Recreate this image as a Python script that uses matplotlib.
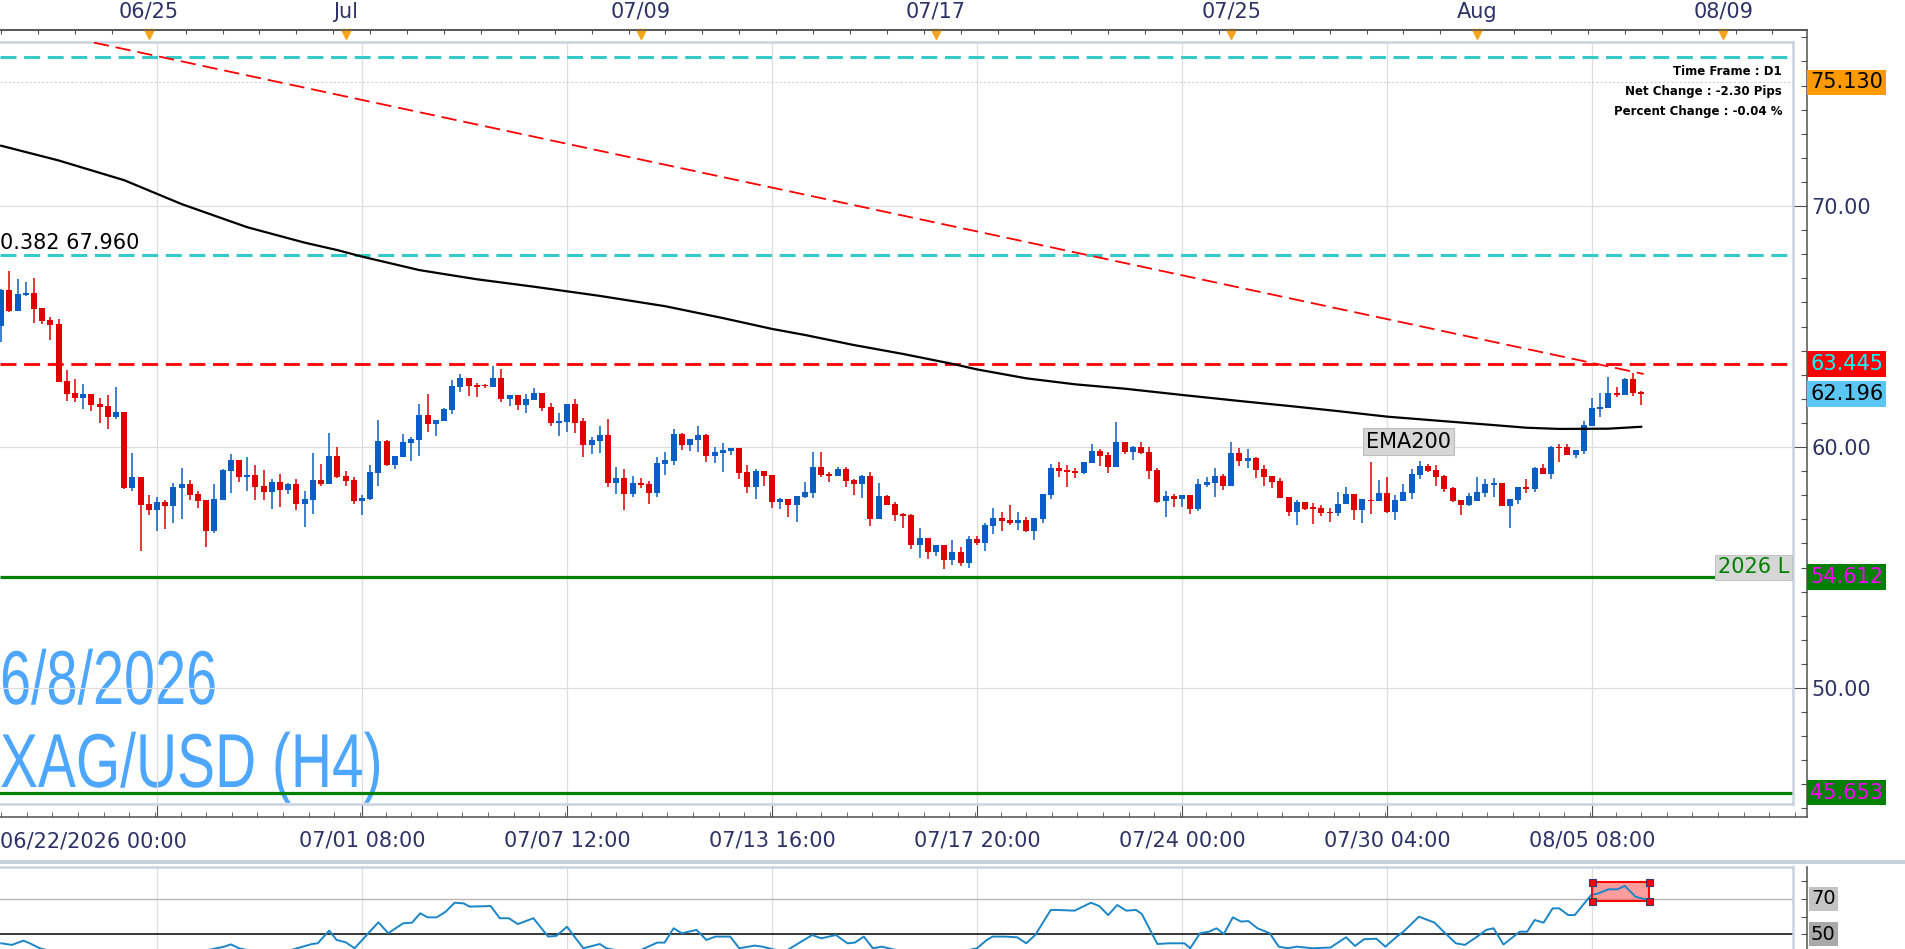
import matplotlib
matplotlib.use("Agg")
import numpy as np
import matplotlib.pyplot as plt
import matplotlib.transforms as mtransforms
from matplotlib import patheffects
from matplotlib.lines import Line2D
from matplotlib.patches import Rectangle

# XAG/USD H4 candles, oldest first
opens = [
    65.02, 66.51, 65.64, 66.32, 66.40, 65.77, 65.27, 65.10, 62.74, 62.22,
    62.05, 62.20, 61.79, 61.70, 61.26, 61.47, 58.30, 58.75, 57.63, 57.39,
    57.72, 57.55, 58.31, 58.45, 58.05, 57.80, 56.51, 57.81, 59.02, 59.45,
    58.76, 58.84, 58.37, 58.13, 58.55, 58.23, 58.46, 57.63, 57.81, 58.63,
    58.46, 59.62, 58.79, 58.63, 57.76, 57.84, 58.92, 60.25, 59.25, 59.60,
    60.17, 60.29, 61.33, 60.97, 61.08, 61.54, 62.49, 62.86, 62.57, 62.54,
    62.49, 62.86, 61.99, 62.16, 61.74, 61.95, 62.24, 61.66, 60.99, 61.04,
    61.78, 61.08, 60.08, 60.25, 60.50, 58.51, 58.71, 58.05, 58.51, 58.47,
    58.09, 59.30, 59.42, 60.54, 60.08, 60.29, 60.50, 59.63, 59.77, 59.85,
    59.96, 58.96, 58.34, 59.00, 58.84, 57.72, 57.84, 57.59, 57.92, 58.09,
    59.17, 58.88, 58.80, 59.09, 58.63, 58.46, 58.80, 57.01, 57.97, 57.63,
    57.22, 57.18, 55.93, 56.22, 55.64, 55.93, 55.31, 55.64, 55.19, 56.18,
    56.02, 56.72, 57.05, 56.97, 56.85, 56.97, 56.51, 57.01, 58.01, 59.13,
    59.05, 59.00, 58.92, 59.34, 59.83, 59.67, 59.17, 60.21, 59.79, 60.00,
    59.79, 59.05, 57.76, 57.97, 57.84, 58.01, 57.43, 58.42, 58.51, 58.80,
    58.38, 59.75, 59.42, 59.54, 59.09, 58.80, 58.59, 57.92, 57.30, 57.72,
    57.47, 57.47, 57.30, 57.26, 57.63, 58.05, 57.38, 57.80, 57.76, 58.09,
    57.30, 57.76, 58.09, 58.84, 59.21, 59.05, 58.80, 58.30, 57.80, 57.59,
    57.76, 58.09, 58.42, 58.51, 57.55, 57.80, 58.34, 58.26, 59.13, 58.88,
    60.00, 60.00, 59.67, 59.83, 60.87, 61.58, 61.62, 62.24, 62.16, 62.82,
    62.28,
]
highs = [
    66.55, 67.30, 66.97, 66.85, 67.03, 65.77, 65.41, 65.31, 63.19, 62.82,
    62.61, 62.20, 62.02, 62.16, 62.50, 61.47, 59.76, 58.75, 58.01, 57.92,
    57.80, 58.49, 59.11, 58.64, 58.17, 57.80, 58.46, 59.09, 59.72, 59.45,
    59.58, 59.25, 59.04, 58.66, 58.88, 58.51, 58.66, 58.19, 59.76, 59.31,
    60.60, 59.99, 59.02, 58.77, 58.01, 59.25, 61.12, 60.29, 59.62, 60.54,
    60.41, 61.78, 62.20, 61.12, 61.62, 62.78, 63.03, 62.86, 62.66, 62.62,
    63.36, 63.24, 62.16, 62.16, 62.20, 62.45, 62.24, 61.82, 61.41, 61.78,
    61.99, 61.20, 60.41, 60.87, 61.16, 59.17, 59.09, 58.80, 58.71, 58.59,
    59.59, 59.79, 60.75, 60.58, 60.33, 60.87, 60.54, 60.00, 60.17, 59.96,
    59.96, 59.25, 59.09, 59.00, 58.84, 57.88, 57.84, 57.97, 58.55, 59.79,
    59.79, 58.96, 59.17, 59.17, 58.67, 58.84, 58.96, 58.51, 58.01, 57.72,
    57.26, 57.22, 56.64, 56.22, 55.93, 55.93, 56.14, 55.85, 56.31, 56.31,
    56.85, 57.47, 57.30, 57.59, 57.30, 57.10, 57.05, 58.05, 59.30, 59.38,
    59.25, 59.13, 59.38, 60.12, 59.92, 59.79, 61.04, 60.21, 60.04, 60.21,
    60.00, 59.13, 58.17, 58.05, 58.01, 58.01, 58.67, 58.76, 59.13, 58.88,
    60.21, 59.96, 59.92, 59.59, 59.25, 58.80, 58.71, 57.92, 57.80, 57.72,
    57.68, 57.59, 57.47, 58.13, 58.34, 58.05, 57.84, 59.38, 58.63, 58.76,
    58.01, 58.46, 59.09, 59.42, 59.30, 59.25, 58.84, 58.34, 57.80, 58.09,
    58.76, 58.67, 58.71, 58.51, 57.84, 58.34, 58.67, 59.17, 59.30, 60.04,
    60.12, 60.12, 59.88, 61.08, 62.03, 62.24, 62.90, 62.49, 62.86, 63.07,
    62.32,
]
lows = [
    64.37, 65.60, 65.64, 66.27, 65.16, 65.10, 64.44, 62.70, 61.91, 61.88,
    61.59, 61.49, 61.01, 60.75, 61.16, 58.26, 58.19, 55.68, 57.18, 56.53,
    56.60, 56.86, 57.03, 57.81, 57.48, 55.86, 56.42, 57.81, 58.11, 58.56,
    58.19, 57.80, 57.80, 57.43, 57.51, 58.05, 57.39, 56.68, 57.22, 58.38,
    58.46, 58.71, 58.38, 57.63, 57.18, 57.80, 58.38, 59.21, 59.09, 59.60,
    59.42, 59.64, 60.62, 60.46, 61.08, 61.37, 62.28, 62.12, 62.07, 62.45,
    62.49, 61.87, 61.70, 61.53, 61.41, 61.95, 61.49, 60.87, 60.46, 60.62,
    60.58, 59.58, 59.71, 59.77, 58.35, 58.05, 57.39, 57.92, 58.30, 57.64,
    57.92, 58.84, 59.25, 59.88, 59.85, 59.79, 59.38, 59.34, 58.96, 59.67,
    58.67, 58.09, 57.84, 58.38, 57.47, 57.43, 57.10, 56.89, 57.88, 57.88,
    58.76, 58.55, 58.80, 58.34, 58.01, 57.88, 56.72, 57.01, 57.59, 56.93,
    56.64, 55.77, 55.39, 55.35, 55.48, 54.94, 55.10, 55.06, 54.98, 55.93,
    55.69, 56.39, 56.51, 56.76, 56.56, 56.47, 56.14, 56.85, 57.84, 58.76,
    58.34, 58.71, 58.88, 59.34, 59.21, 58.92, 59.17, 59.71, 59.46, 59.71,
    58.67, 57.68, 57.10, 57.51, 57.51, 57.22, 57.34, 58.34, 57.92, 58.22,
    58.38, 59.21, 59.13, 58.71, 58.38, 58.30, 57.88, 57.14, 56.76, 57.38,
    56.81, 57.14, 56.89, 57.14, 57.63, 56.97, 56.85, 57.22, 57.76, 57.26,
    56.97, 57.76, 57.84, 58.67, 58.96, 58.38, 58.13, 57.72, 57.18, 57.55,
    57.76, 57.92, 57.92, 57.55, 56.64, 57.63, 58.09, 58.13, 58.88, 58.67,
    59.38, 59.67, 59.54, 59.71, 60.87, 61.25, 61.62, 62.08, 62.16, 62.12,
    61.74,
]
closes = [
    66.51, 65.64, 66.36, 66.39, 65.74, 65.24, 65.07, 62.70, 62.21, 62.05,
    62.20, 61.76, 61.67, 61.26, 61.45, 58.29, 58.75, 57.59, 57.39, 57.70,
    57.55, 58.34, 58.45, 58.02, 57.77, 56.51, 57.84, 59.04, 59.45, 58.76,
    58.82, 58.34, 58.13, 58.55, 58.23, 58.46, 57.63, 57.84, 58.63, 58.46,
    59.62, 58.76, 58.60, 57.76, 57.90, 58.96, 60.25, 59.25, 59.62, 60.21,
    60.33, 61.33, 60.97, 61.12, 61.58, 62.53, 62.86, 62.53, 62.49, 62.52,
    62.86, 61.99, 62.16, 61.74, 61.99, 62.24, 61.62, 60.99, 61.08, 61.78,
    60.99, 60.08, 60.29, 60.50, 58.51, 58.71, 58.05, 58.51, 58.42, 58.09,
    59.34, 59.46, 60.54, 60.08, 60.33, 60.50, 59.63, 59.79, 59.88, 59.96,
    58.92, 58.34, 59.00, 58.80, 57.72, 57.84, 57.59, 57.97, 58.13, 59.17,
    58.84, 58.80, 59.09, 58.59, 58.46, 58.80, 57.01, 57.97, 57.59, 57.18,
    57.14, 55.93, 56.22, 55.64, 55.93, 55.31, 55.64, 55.19, 56.18, 56.02,
    56.76, 57.05, 56.93, 56.85, 56.97, 56.51, 57.05, 58.05, 59.13, 59.00,
    58.96, 58.92, 59.38, 59.83, 59.63, 59.17, 60.21, 59.79, 60.00, 59.75,
    59.00, 57.72, 57.97, 57.84, 58.01, 57.43, 58.46, 58.55, 58.80, 58.38,
    59.75, 59.42, 59.54, 59.05, 58.76, 58.55, 57.88, 57.30, 57.72, 57.43,
    57.43, 57.26, 57.26, 57.63, 58.05, 57.38, 57.84, 57.76, 58.09, 57.30,
    57.80, 58.13, 58.88, 59.21, 59.00, 58.76, 58.26, 57.76, 57.59, 57.97,
    58.13, 58.46, 58.51, 57.55, 57.84, 58.34, 58.26, 59.13, 58.88, 60.00,
    59.96, 59.67, 59.88, 60.91, 61.62, 61.66, 62.24, 62.16, 62.82, 62.24,
    62.20,
]

# EMA200 (bar index, value)
ema_x = [0, 7, 15, 22, 30, 37, 41, 44, 51, 58, 65, 73, 81, 88, 94, 98, 104,
         110, 116, 119, 125, 131, 137, 144, 151, 158, 163, 169, 176, 182, 186,
         190, 196, 200]
ema_vals = [72.50, 71.89, 71.07, 70.08, 69.12, 68.48, 68.17, 67.90, 67.34,
            66.96, 66.65, 66.27, 65.84, 65.35, 64.90, 64.65, 64.23, 63.86,
            63.45, 63.22, 62.85, 62.60, 62.42, 62.16, 61.91, 61.67, 61.49,
            61.26, 61.07, 60.91, 60.80, 60.75, 60.76, 60.84]

# RSI line (bar index, value)
rsi_x = [0, 1.3, 2.7, 3.5, 4.7, 8, 15, 22, 27.2, 28, 29, 33, 37.9, 38.6, 40,
         40.9, 42, 43.1, 46, 47.2, 49, 50.1, 51.1, 52, 53.1, 54.2, 55.3, 56.4,
         57.1, 59.7, 60.8, 61.9, 63, 64.9, 66.7, 67.7, 69, 69.9, 71, 73, 73.8,
         77, 80, 80.9, 82, 83, 84.8, 86, 87.1, 88.9, 90, 91.9, 92.8, 95.5,
         98.9, 100, 101.8, 103.2, 104.1, 105.2, 106.3, 107.4, 111, 115, 119,
         120.2, 120.9, 122.4, 123.9, 125, 126.1, 128, 128.7, 130.9, 132.9,
         133.9, 135, 136.1, 137.2, 138.4, 139.1, 141, 142.4, 144.3, 145,
         146.2, 147.3, 148.2, 149.1, 150.2, 151.2, 152.1, 153.2, 154.7, 155.8,
         156.9, 158, 159.9, 162.1, 164, 165.1, 166.2, 167.7, 168.8, 170.3,
         171, 172.9, 174.8, 175.9, 177.4, 178.5, 180, 181.1, 182, 183.2,
         185.2, 186.1, 187, 188.1, 189.2, 190, 191.1, 191.9, 193.9, 194.8,
         196, 197.1, 198, 199.3, 200.8]
rsi_vals = [44.9, 44.0, 46.4, 44.9, 42.1, 38, 37, 38, 43.0, 44.3, 42.1, 38,
            44.5, 44.9, 52.1, 46.8, 45.5, 42.1, 56.8, 50.6, 56.2, 56.6, 61.9,
            59.6, 59.6, 62.8, 67.9, 67.5, 65.7, 66.0, 59.1, 59.1, 55.8, 59.1,
            48.7, 49.1, 54.3, 48.7, 42.1, 44.5, 42.1, 39, 45.3, 45.3, 53.4,
            50.6, 52.5, 46.8, 48.7, 48.7, 42.1, 43.6, 43.0, 40, 49.6, 47.7,
            49.6, 44.9, 45.3, 48.7, 42.1, 43.0, 39, 38, 42.1, 46.8, 48.7,
            48.7, 48.3, 44.9, 49.6, 63.8, 63.8, 63.4, 67.9, 66.0, 60.9, 66.6,
            63.4, 63.8, 61.5, 44.5, 44.9, 44.9, 42.1, 50.6, 51.5, 53.4, 50.2,
            59.6, 57.2, 57.5, 53.4, 50.6, 43.0, 42.1, 43.0, 42.1, 42.5, 48.3,
            43.4, 47.2, 47.5, 43.0, 49.1, 51.5, 60.0, 56.6, 51.5, 44.9, 44.0,
            48.7, 52.5, 53.4, 44.2, 51.5, 51.5, 58.1, 56.6, 64.7, 64.7, 60.9,
            60.9, 72.3, 73.2, 75.5, 75.5, 77.4, 71.3, 69.4]
rsi_box_x = [194, 201]
rsi_box_y = [69.0, 79.5]

# drawn levels
trend_x = [11.3, 200.3]
trend_y = [76.78, 63.03]
upper_level = 76.18
fib_level = 67.960
resist_level = 63.445
low_2026 = 54.612
support_level = 45.653
marker_level = 75.130
last_price = 62.196

# axis labels
day_ticks = [18, 42, 78, 114, 150, 180, 210]
day_labels = ["06/25", "Jul", "07/09", "07/17", "07/25", "Aug", "08/09"]
grid_bars = [19, 44, 69, 94, 119, 144, 169, 194]
bar_labels = ["", "07/01 08:00", "07/07 12:00", "07/13 16:00", "07/17 20:00",
              "07/24 00:00", "07/30 04:00", "08/05 08:00"]
first_label = "06/22/2026 00:00"
price_ticks = [50, 60, 70]
rsi_ticks = [50, 60, 70, 80]

BLUE = "#0b5ec6"
RED = "#e00000"
CYAN = "#36c9c9"
GREEN = "#008000"
NAVY = "#2e3266"
BORDER = "#c9d3e0"
AXIS = "#505050"
GRID = "#dedede"
WATERMARK = "#4da6ff"

W, H = 1905, 949


def rect(x0, y0, x1, y1):
    return [x0 / W, 1 - y1 / H, (x1 - x0) / W, (y1 - y0) / H]


def bar_at(px):
    return (px - 1.2) / 8.2


def price_at(py):
    return 70 - (py - 206) / 24.1


def rsi_at(py):
    return 70 - (py - 899) / 1.765


def pt(px):
    return px * 0.72


class Squeeze(patheffects.AbstractPathEffect):
    """Draw glyphs narrower (condensed look) around the text anchor."""

    def __init__(self, sx):
        super().__init__()
        self.sx = sx

    def draw_path(self, renderer, gc, tpath, affine, rgbFace=None):
        x0 = affine.transform((0, 0))[0]
        squeeze = mtransforms.Affine2D().translate(-x0, 0).scale(self.sx, 1).translate(x0, 0)
        renderer.draw_path(gc, tpath, affine + squeeze, rgbFace)


plt.rcParams["font.family"] = "DejaVu Sans"
plt.rcParams["lines.scale_dashes"] = False

fig = plt.figure(figsize=(W / 100, H / 100), dpi=100)

# outer frame with ticks (behind the plot area)
ax_out = fig.add_axes(rect(0, 30, 1807, 817), facecolor="none")
ax_out.set_xlim(bar_at(0), bar_at(1807))
ax_out.set_ylim(price_at(817), price_at(30))
ax_out.spines["left"].set_visible(False)
for side in ["top", "right", "bottom"]:
    ax_out.spines[side].set_color(AXIS)
    ax_out.spines[side].set_linewidth(1.1)
ax_out.yaxis.tick_right()
ax_out.set_yticks(price_ticks, labels=[f"{v:.2f}" for v in price_ticks])
ax_out.set_yticks(np.arange(45, 78, 1), minor=True)
ax_out.tick_params(axis="y", which="major", direction="in", length=pt(14),
                   width=0.8, color=AXIS, labelsize=15, labelcolor=NAVY, pad=3)
ax_out.tick_params(axis="y", which="minor", direction="in", length=pt(6),
                   width=0.8, color=AXIS)
ax_out.set_xticks(grid_bars, labels=bar_labels)
ax_out.set_xticks(np.arange(0, 220, 25 / 8), minor=True)
ax_out.tick_params(axis="x", which="major", direction="in", length=pt(12),
                   width=0.8, color=AXIS, labelsize=15, labelcolor=NAVY, pad=10)
ax_out.tick_params(axis="x", which="minor", direction="in", length=pt(5),
                   width=0.6, color=AXIS)
ax_out.text(bar_at(0), -0.031, first_label, ha="left", va="center",
            fontsize=15, color=NAVY,
            transform=mtransforms.blended_transform_factory(ax_out.transData, ax_out.transAxes))

top = ax_out.secondary_xaxis("top")
top.set_xticks(day_ticks, labels=day_labels)
top.set_xticks(np.arange(0, 220, 4.5), minor=True)
top.tick_params(which="major", length=0, labelsize=15, labelcolor=NAVY, pad=6)
top.tick_params(which="minor", direction="in", length=pt(4), width=0.8, color=AXIS)
top.spines["top"].set_color(AXIS)
top.spines["top"].set_linewidth(1.1)

tri_tf = mtransforms.blended_transform_factory(ax_out.transData, ax_out.transAxes)
ax_out.plot(day_ticks, [0.9949] * len(day_ticks), ls="none", marker="v",
            ms=pt(10), color="#f5a31a", transform=tri_tf, clip_on=False)

# right side value labels
lab_tf = mtransforms.blended_transform_factory(ax_out.transAxes, ax_out.transData)
value_labels = [
    (marker_level, "#ff9900", "black"),
    (resist_level, "#ff0000", "#00ffff"),
    (last_price, "#5cc6f2", "black"),
    (low_2026, GREEN, "#ff00ff"),
    (support_level, GREEN, "#ff00ff"),
]
for value, bg, fg in value_labels:
    ax_out.text(1.0017, value, f"{value:.3f}", transform=lab_tf, ha="left",
                va="center", fontsize=15, color=fg, zorder=5,
                bbox=dict(boxstyle="square,pad=0.13", fc=bg, ec="none"))

# main price panel
ax = fig.add_axes(rect(0, 42, 1793, 804))
ax.set_xlim(bar_at(0), bar_at(1793))
ax.set_ylim(price_at(804), price_at(42))
ax.set_xticks([])
ax.set_yticks([])
ax.spines["left"].set_visible(False)
for side in ["top", "right", "bottom"]:
    ax.spines[side].set_color(BORDER)
    ax.spines[side].set_linewidth(1.8)

ax.text(bar_at(0), price_at(704), "6/8/2026", fontsize=55, family="Liberation Sans",
        color=WATERMARK, va="baseline", ha="left", zorder=0.5,
        path_effects=[Squeeze(0.73)])
ax.text(bar_at(0), price_at(787), "XAG/USD (H4)", fontsize=55, family="Liberation Sans",
        color=WATERMARK, va="baseline", ha="left", zorder=0.5,
        path_effects=[Squeeze(0.745)])

for b in grid_bars:
    ax.axvline(b, color=GRID, lw=0.9, zorder=0.8)
for p in price_ticks:
    ax.axhline(p, color=GRID, lw=0.9, zorder=0.8)

ax.axhline(marker_level, color="#cfcfcf", lw=0.8, ls=(0, (1.5, 1.5)), zorder=1)
ax.axhline(upper_level, color=CYAN, lw=2.2, ls=(0, (11.5, 5.5)), zorder=2)
ax.axhline(fib_level, color=CYAN, lw=2.2, ls=(0, (11.5, 5.5)), zorder=2)
ax.axhline(resist_level, color="#ff0000", lw=2.0, ls=(0, (11.5, 5.5)), zorder=2)
ax.hlines(low_2026, bar_at(0), bar_at(1715), color=GREEN, lw=2.3, zorder=2)
ax.axhline(support_level, color=GREEN, lw=2.3, zorder=2)

ax.text(bar_at(0), price_at(249), f"0.382 {fib_level:.3f}", fontsize=15,
        color="black", va="baseline", ha="left", zorder=6)

x = np.arange(len(opens))
o = np.array(opens)
h = np.array(highs)
l = np.array(lows)
c = np.array(closes)
colors = np.where(c >= o, BLUE, RED)
ax.vlines(x, l, h, colors=colors, lw=1.1, zorder=3)
ax.bar(x, np.maximum(np.abs(c - o), 0.06), bottom=np.minimum(o, c),
       width=0.72, color=colors, linewidth=0, zorder=4)

ax.plot(ema_x, ema_vals, color="black", lw=1.6, zorder=5)
ax.plot(trend_x, trend_y, color="#ff0000", lw=1.3, ls=(0, (11, 5)), zorder=5)

ax.text(bar_at(1366), price_at(441.5), "EMA200", fontsize=15, color="black",
        ha="left", va="center", zorder=6,
        bbox=dict(boxstyle="square,pad=0.15", fc="#d6d6d6", ec="#bdbdbd", lw=0.8))
ax.text(bar_at(1789), price_at(567), "2026 L", fontsize=15, color=GREEN,
        ha="right", va="center", zorder=6,
        bbox=dict(boxstyle="square,pad=0.12", fc="#d6d6d6", ec="#c4c4c4", lw=0.8))

info = ["Time Frame : D1", "Net Change : -2.30 Pips", "Percent Change : -0.04 %"]
for line, py in zip(info, [71, 91, 111]):
    ax.text(bar_at(1782), price_at(py), line, fontsize=8.5, fontweight="bold",
            color="black", ha="right", va="center", zorder=6)

# separator between panels
fig.add_artist(Line2D([0, 1], [1 - 862 / H] * 2, transform=fig.transFigure,
                      color="#c5d0dd", lw=pt(4)))

# RSI panel
ax_rout = fig.add_axes(rect(0, 867, 1807, 949), facecolor="none")
ax_rout.set_xlim(bar_at(0), bar_at(1807))
ax_rout.set_ylim(rsi_at(949), rsi_at(867))
for side in ["left", "top", "bottom"]:
    ax_rout.spines[side].set_visible(False)
ax_rout.spines["right"].set_color(AXIS)
ax_rout.spines["right"].set_linewidth(1.1)
ax_rout.set_xticks([])
ax_rout.yaxis.tick_right()
ax_rout.set_yticks(rsi_ticks, labels=[""] * len(rsi_ticks))
ax_rout.tick_params(axis="y", direction="in", length=pt(6), width=0.8, color=AXIS)
rlab_tf = mtransforms.blended_transform_factory(ax_rout.transAxes, ax_rout.transData)
for value, bg in [(70, "#c3c3c3"), (50, "#a9a9a9")]:
    ax_rout.text(1.0022, value, str(value), transform=rlab_tf, ha="left",
                 va="center", fontsize=14, color="black",
                 bbox=dict(boxstyle="square,pad=0.12", fc=bg, ec="none"))

ax_r = fig.add_axes(rect(0, 867, 1793, 949))
ax_r.set_xlim(bar_at(0), bar_at(1793))
ax_r.set_ylim(rsi_at(949), rsi_at(867))
ax_r.set_xticks([])
ax_r.set_yticks([])
for side in ["left", "bottom"]:
    ax_r.spines[side].set_visible(False)
for side in ["top", "right"]:
    ax_r.spines[side].set_color(BORDER)
    ax_r.spines[side].set_linewidth(1.8)
for b in grid_bars:
    ax_r.axvline(b, color=GRID, lw=0.9, zorder=0)
ax_r.axhline(70, color="#b5b5b5", lw=1.0, zorder=1)
ax_r.axhline(50, color="black", lw=1.1, zorder=1)
ax_r.plot(rsi_x, rsi_vals, color="#1a86c8", lw=1.4, zorder=3)
ax_r.add_patch(Rectangle((rsi_box_x[0], rsi_box_y[0]),
                         rsi_box_x[1] - rsi_box_x[0], rsi_box_y[1] - rsi_box_y[0],
                         fc="#ff5a5a", alpha=0.6, ec="none", zorder=2))
ax_r.add_patch(Rectangle((rsi_box_x[0], rsi_box_y[0]),
                         rsi_box_x[1] - rsi_box_x[0], rsi_box_y[1] - rsi_box_y[0],
                         fc="none", ec="#ff0000", lw=1.4, zorder=4))
ax_r.plot([rsi_box_x[0], rsi_box_x[1], rsi_box_x[0], rsi_box_x[1]],
          [rsi_box_y[0], rsi_box_y[0], rsi_box_y[1], rsi_box_y[1]],
          ls="none", marker="s", ms=pt(7), mfc="#ff0000", mec="#3a3a6a",
          mew=0.8, zorder=5, clip_on=False)

fig.savefig("out.png", dpi=100)
